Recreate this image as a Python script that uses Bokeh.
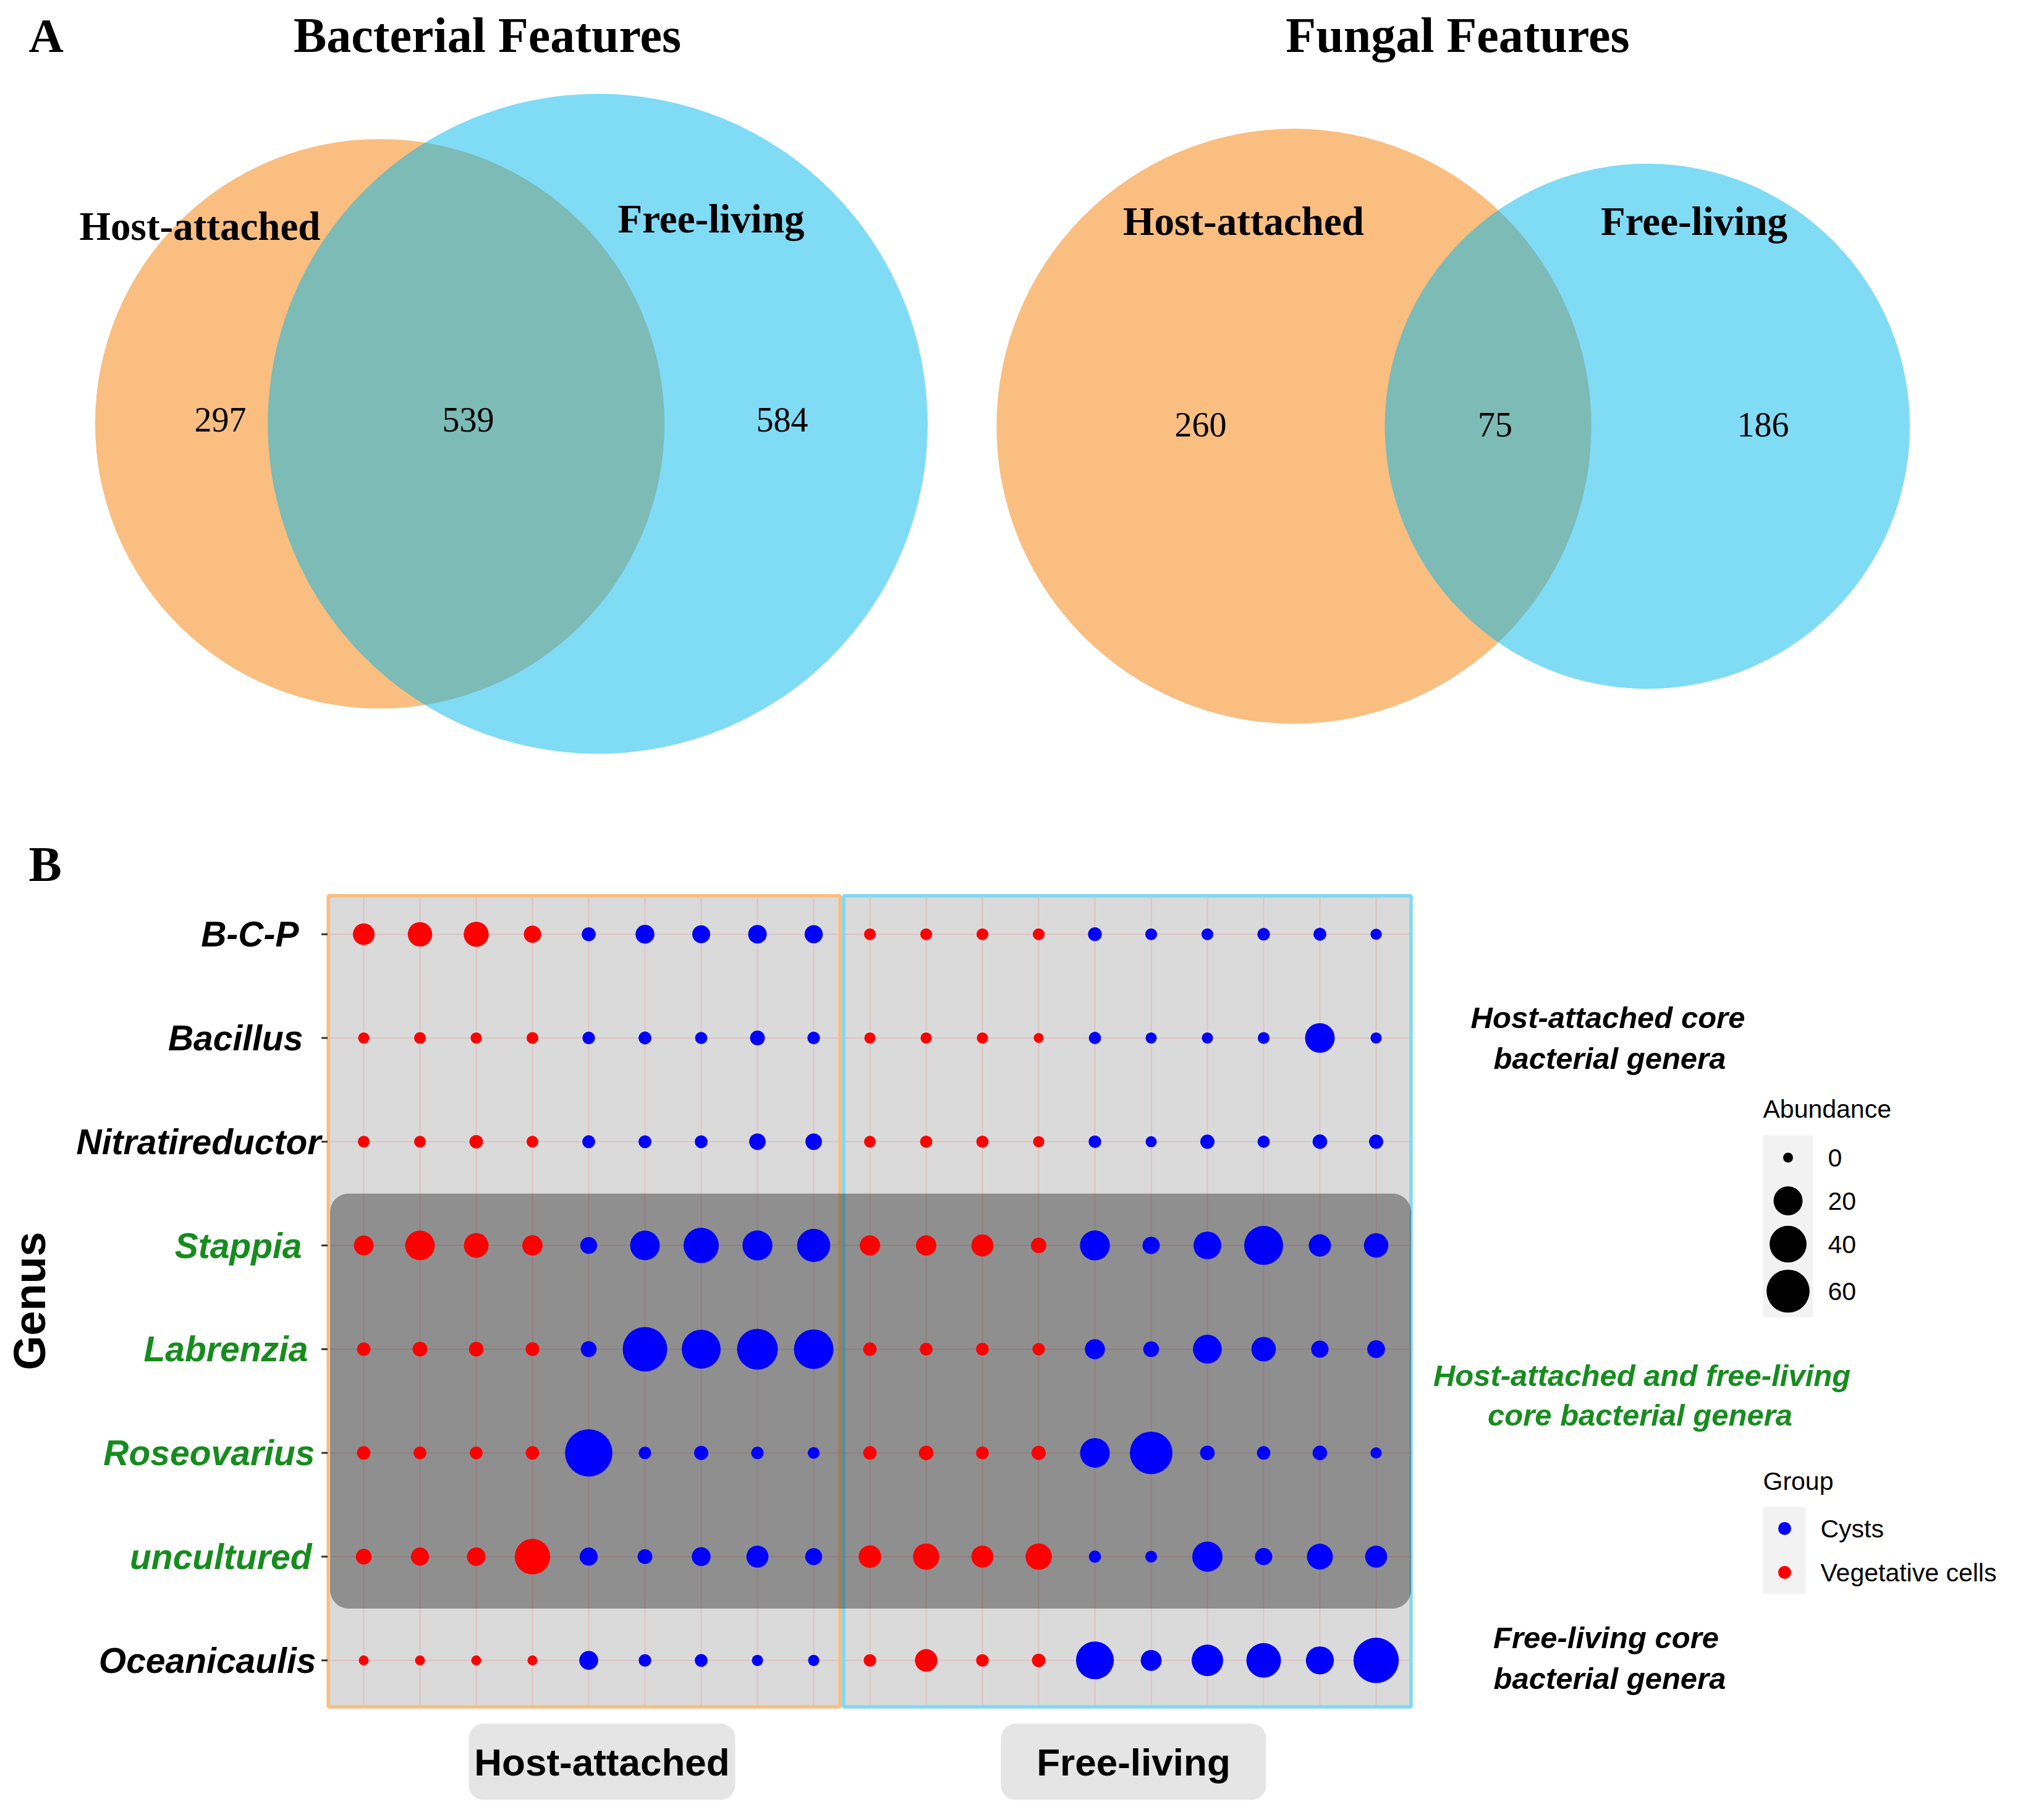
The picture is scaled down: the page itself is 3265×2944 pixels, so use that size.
import numpy as np
from bokeh.plotting import figure
from bokeh.models import Range1d, ColumnDataSource
from bokeh.layouts import column, row
from bokeh.embed import file_html
from bokeh.resources import INLINE
from bokeh.core.properties import value

# ---------------------------------------------------------------- data
venn_set_names = ["Host-attached", "Free-living"]
bact_counts = [297, 539, 584]      # host-only, shared, free-only
fung_counts = [260, 75, 186]

genera = ["B-C-P", "Bacillus", "Nitratireductor", "Stappia",
          "Labrenzia", "Roseovarius", "uncultured", "Oceanicaulis"]
core_shared_genera = ["Stappia", "Labrenzia", "Roseovarius", "uncultured"]

sample_habitat = ["Host-attached", "Host-attached", "Host-attached", "Host-attached",
                  "Host-attached", "Host-attached", "Host-attached", "Host-attached",
                  "Host-attached", "Free-living", "Free-living", "Free-living",
                  "Free-living", "Free-living", "Free-living", "Free-living",
                  "Free-living", "Free-living", "Free-living"]
sample_group = ["Vegetative cells", "Vegetative cells", "Vegetative cells", "Vegetative cells",
                "Cysts", "Cysts", "Cysts", "Cysts", "Cysts",
                "Vegetative cells", "Vegetative cells", "Vegetative cells", "Vegetative cells",
                "Cysts", "Cysts", "Cysts", "Cysts", "Cysts", "Cysts"]

abund_bcp = [7.5, 11.5, 12.5, 3.0, 0.9, 4.4, 3.5, 4.1, 3.7, 0.2, 0.2, 0.2, 0.2, 0.8, 0.2, 0.2, 0.4, 0.5, 0.1]
abund_bacillus = [0.1, 0.2, 0.1, 0.2, 0.4, 0.5, 0.3, 1.3, 0.4, 0.1, 0.1, 0.1, 0.0, 0.3, 0.1, 0.1, 0.2, 21.3, 0.1]
abund_nitratireductor = [0.2, 0.2, 0.7, 0.2, 0.5, 0.5, 0.5, 2.4, 2.4, 0.2, 0.3, 0.3, 0.1, 0.4, 0.1, 1.0, 0.3, 1.2, 1.0]
abund_stappia = [5.3, 21.3, 12.0, 6.0, 2.7, 21.3, 35.0, 22.0, 29.4, 6.0, 6.0, 8.1, 1.7, 22.0, 3.0, 17.5, 46.0, 8.3, 11.6]
abund_labrenzia = [0.7, 1.3, 1.2, 0.8, 1.9, 65.3, 46.0, 52.1, 48.0, 0.7, 0.5, 0.5, 0.4, 5.7, 1.9, 19.5, 11.6, 3.0, 3.4]
abund_roseovarius = [0.7, 0.5, 0.5, 0.7, 76.5, 0.4, 1.0, 0.4, 0.2, 0.7, 1.2, 0.5, 1.0, 21.3, 58.5, 1.2, 0.7, 1.2, 0.1]
abund_uncultured = [1.9, 3.7, 4.1, 35.7, 3.7, 1.3, 4.4, 8.1, 2.7, 8.7, 14.8, 8.1, 14.8, 0.3, 0.2, 22.7, 3.0, 14.1, 8.1]
abund_oceanicaulis = [0.0, 0.0, 0.0, 0.0, 4.4, 0.4, 0.5, 0.1, 0.1, 0.4, 8.7, 0.4, 0.7, 42.5, 6.6, 25.5, 33.3, 17.9, 68.6]

abundance_breaks = [0, 20, 40, 60]
group_levels = ["Cysts", "Vegetative cells"]

# ---------------------------------------------------------------- styles
SERIF = value("Liberation Serif")
SANS = value("Liberation Sans")
VENN_ORANGE = "#F37D01"
VENN_BLUE = "#01B7EB"
BOX_ORANGE = "#F9BE80"
BOX_BLUE = "#80D9F2"
GREEN = "#168C1E"
GROUP_COLORS = {"Cysts": "#0000FF", "Vegetative cells": "#FF0000"}
DOT_D0, DOT_DK = 16.0, 6.93     # diameter(px) = D0 + DK*sqrt(abundance)
# right edge (px) of each genus label, as placed in the original figure
GENUS_LABEL_RIGHT = [483, 490, 519, 488, 498, 509, 504, 511]


def dot_size(v):
    return DOT_D0 + DOT_DK * np.sqrt(np.asarray(v, dtype=float))


def new_fig(W, H, xr, yr):
    p = figure(width=W, height=H, x_range=Range1d(*xr), y_range=Range1d(*yr),
               output_backend="svg", toolbar_location=None, min_border=0,
               x_axis_location=None, y_axis_location=None,
               outline_line_color=None, background_fill_color="white",
               border_fill_color="white")
    p.grid.visible = False
    return p


# ---------------------------------------------------------------- venn
def lens_area(d, r1, r2):
    d1 = (d * d + r1 * r1 - r2 * r2) / (2 * d)
    d2 = d - d1
    a1 = r1 * r1 * np.arccos(np.clip(d1 / r1, -1, 1)) - d1 * np.sqrt(max(r1 * r1 - d1 * d1, 0))
    a2 = r2 * r2 * np.arccos(np.clip(d2 / r2, -1, 1)) - d2 * np.sqrt(max(r2 * r2 - d2 * d2, 0))
    return a1 + a2


def venn_geometry(counts):
    a_only, shared, b_only = counts
    r1, r2 = np.sqrt(a_only + shared), np.sqrt(b_only + shared)
    target = np.pi * shared
    lo, hi = abs(r1 - r2) + 1e-9, r1 + r2
    for _ in range(200):
        d = 0.5 * (lo + hi)
        if lens_area(d, r1, r2) > target:
            lo = d
        else:
            hi = d
    return r1, r2, 0.5 * (lo + hi)


def venn_fig(counts, W, H, ox, oy, cx, cy, k, title, title_x, letter,
             name_pos, count_x, count_mid):
    def vx(px):
        return (px - cx) / k

    def vy(py):
        return (cy - py) / k

    p = new_fig(W, H, (vx(ox), vx(ox + W)), (vy(oy + H), vy(oy)))
    r1, r2, d = venn_geometry(counts)
    p.circle(x=[0], y=[0], radius=r1, fill_color=VENN_ORANGE, fill_alpha=0.5, line_color=None)
    p.circle(x=[d], y=[0], radius=r2, fill_color=VENN_BLUE, fill_alpha=0.5, line_color=None)
    p.text(x=[vx(title_x)], y=[vy(56)], text=[title], text_font=SERIF, text_font_style="bold",
           text_font_size="80px", text_align="center", text_baseline="middle", text_color="black")
    if letter:
        p.text(x=[vx(46)], y=[vy(57)], text=[letter], text_font=SERIF, text_font_style="bold",
               text_font_size="78px", text_align="left", text_baseline="middle", text_color="black")
    p.text(x=[vx(px) for px, _ in name_pos], y=[vy(py) for _, py in name_pos], text=venn_set_names,
           text_font=SERIF, text_font_style="bold", text_font_size="65px",
           text_align="center", text_baseline="middle", text_color="black")
    p.text(x=[vx(px) for px in count_x], y=[vy(count_mid)] * 3, text=[str(c) for c in counts],
           text_font=SERIF, text_font_size="56px", text_align="center",
           text_baseline="middle", text_color="black")
    return p


FA_H = 1282
fa1 = venn_fig(bact_counts, 1560, FA_H, 0, 0, 614, 685, 15.93, "Bacterial Features", 788, "A",
               [(323, 365.5), (1150, 353.5)], [356, 757, 1265], 678.5)
fa2 = venn_fig(fung_counts, 1689, FA_H, 1560, 0, 2093, 689, 26.29, "Fungal Features", 2358, None,
               [(2011.5, 357.5), (2740.5, 357.5)], [1942, 2418.5, 2852], 686)

# ---------------------------------------------------------------- dot plot
FB_X0, FB_Y0, FB_W, FB_H = 0, FA_H, 3249, 1646
COL1_PX, COL_STEP = 588.0, 91.0
ROW_TOP_PX, ROW_STEP = 1510.7, 167.8
n_rows, n_cols = len(genera), len(sample_group)


def X(px):
    return 1 + (px - COL1_PX) / COL_STEP


def Y(py):
    return n_rows - (py - ROW_TOP_PX) / ROW_STEP


fb = new_fig(FB_W, FB_H, (X(FB_X0), X(FB_X0 + FB_W)), (Y(FB_Y0 + FB_H), Y(FB_Y0)))

PL, PR, PT, PB = 530.6, 2282.5, 1448.5, 2760.5
cols = np.arange(1, n_cols + 1)
rows_y = [n_rows - i for i in range(n_rows)]


def rounded_rect(x0, x1, y0, y1, r_px, n=18):
    rx, ry = r_px / COL_STEP, r_px / ROW_STEP
    xs, ys = [], []
    for ccx, ccy, a0 in [(x1 - rx, y1 - ry, 0), (x0 + rx, y1 - ry, 90),
                         (x0 + rx, y0 + ry, 180), (x1 - rx, y0 + ry, 270)]:
        t = np.radians(np.linspace(a0, a0 + 90, n))
        xs.extend(ccx + rx * np.cos(t))
        ys.extend(ccy + ry * np.sin(t))
    return xs, ys


# panel background
fb.quad(left=[X(PL)], right=[X(PR)], top=[Y(PT)], bottom=[Y(PB)], fill_color="#DADADA", line_color=None)
# grid lines
fb.segment(x0=cols, y0=Y(PB), x1=cols, y1=Y(PT), line_color="red", line_alpha=0.11, line_width=2)
fb.segment(x0=X(PL), y0=rows_y, x1=X(PR), y1=rows_y, line_color="red", line_alpha=0.11, line_width=2)
# habitat boxes
n_host = sample_habitat.count("Host-attached")
split = n_host + 0.5
fb.quad(left=[X(PL)], right=[split - 3 / COL_STEP], top=[Y(PT)], bottom=[Y(PB)],
        fill_alpha=0, line_color=BOX_ORANGE, line_width=5.5)
fb.quad(left=[split + 3 / COL_STEP], right=[X(PR)], top=[Y(PT)], bottom=[Y(PB)],
        fill_alpha=0, line_color=BOX_BLUE, line_width=5.5)
# shared-core highlight
core_rows = [n_rows - genera.index(g) for g in core_shared_genera]
hx, hy = rounded_rect(X(PL + 3), X(PR), min(core_rows) - 0.5, max(core_rows) + 0.5, 30)
fb.patch(hx, hy, fill_color="black", fill_alpha=0.345, line_color=None)

# dots
abund_rows = [abund_bcp, abund_bacillus, abund_nitratireductor, abund_stappia,
              abund_labrenzia, abund_roseovarius, abund_uncultured, abund_oceanicaulis]
dx, dy, dv, dc = [], [], [], []
for gi, vals in enumerate(abund_rows):
    for ci, v in enumerate(vals):
        dx.append(ci + 1)
        dy.append(n_rows - gi)
        dv.append(v)
        dc.append(GROUP_COLORS[sample_group[ci]])
src = ColumnDataSource(dict(x=dx, y=dy, abundance=dv, size=dot_size(dv), color=dc))
fb.scatter(x="x", y="y", size="size", fill_color="color", line_color=None, marker="circle", source=src)

# y axis ticks + genus labels
fb.segment(x0=X(PL - 11), y0=rows_y, x1=X(PL - 1), y1=rows_y, line_color="#333333", line_width=3)
label_colors = [GREEN if g in core_shared_genera else "black" for g in genera]
fb.text(x=[X(px) for px in GENUS_LABEL_RIGHT], y=rows_y, text=genera, text_color=label_colors,
        text_font=SANS, text_font_style="bold italic", text_font_size="57px",
        text_align="right", text_baseline="middle")
fb.text(x=[X(47)], y=[Y(2104)], text=["Genus"], angle=np.pi / 2, text_font=SANS, text_font_style="bold",
        text_font_size="72px", text_align="center", text_baseline="middle", text_color="black")
fb.text(x=[X(46)], y=[Y(1397)], text=["B"], text_font=SERIF, text_font_style="bold",
        text_font_size="80px", text_align="left", text_baseline="middle", text_color="black")

# habitat strips under the panel
strips = [("Host-attached", 758, 1189), ("Free-living", 1619, 2048)]
for name, x0, x1 in strips:
    sx_, sy_ = rounded_rect(X(x0), X(x1), Y(2911), Y(2787.5), 24)
    fb.patch(sx_, sy_, fill_color="#E5E5E5", line_color=None)
    fb.text(x=[X((x0 + x1) / 2)], y=[Y(2850)], text=[name], text_font=SANS, text_font_style="bold",
            text_font_size="62px", text_align="center", text_baseline="middle", text_color="black")

# annotations on the right
ann = [("Host-attached core", 2601, 1645, "black"), ("bacterial genera", 2604, 1711, "black"),
       ("Host-attached and free-living", 2656, 2224, GREEN), ("core bacterial genera", 2653, 2288, GREEN),
       ("Free-living core", 2598, 2648, "black"), ("bacterial genera", 2604, 2714, "black")]
fb.text(x=[X(a[1]) for a in ann], y=[Y(a[2]) for a in ann], text=[a[0] for a in ann],
        text_color=[a[3] for a in ann], text_font=SANS, text_font_style="bold italic",
        text_font_size="49px", text_align="center", text_baseline="middle")

# size legend
LEG_X = 2852
fb.text(x=[X(LEG_X)], y=[Y(1793)], text=["Abundance"], text_font=SANS, text_font_size="41px",
        text_align="left", text_baseline="middle", text_color="black")
fb.quad(left=[X(LEG_X)], right=[X(2933)], top=[Y(1836)], bottom=[Y(2130)], fill_color="#F2F2F2", line_color=None)
size_key_y = [Y(py) for py in (1872, 1942, 2012, 2088)]
fb.scatter(x=[X(2892.5)] * len(abundance_breaks), y=size_key_y, size=dot_size(abundance_breaks),
           fill_color="black", line_color=None, marker="circle")
fb.text(x=[X(2957)] * len(abundance_breaks), y=size_key_y, text=[str(b) for b in abundance_breaks],
        text_font=SANS, text_font_size="41px", text_align="left", text_baseline="middle", text_color="black")

# group legend
fb.text(x=[X(LEG_X)], y=[Y(2395)], text=["Group"], text_font=SANS, text_font_size="41px",
        text_align="left", text_baseline="middle", text_color="black")
fb.quad(left=[X(LEG_X)], right=[X(2921)], top=[Y(2437)], bottom=[Y(2578)], fill_color="#F2F2F2", line_color=None)
grp_y = [Y(2472), Y(2543)]
fb.scatter(x=[X(2887)] * 2, y=grp_y, size=21, fill_color=[GROUP_COLORS[g] for g in group_levels],
           line_color=None, marker="circle")
fb.text(x=[X(2945)] * 2, y=grp_y, text=group_levels, text_font=SANS, text_font_size="41px",
        text_align="left", text_baseline="middle", text_color="black")

layout = column(row(fa1, fa2), fb)
open("out.html", "w").write(file_html(layout, INLINE))
